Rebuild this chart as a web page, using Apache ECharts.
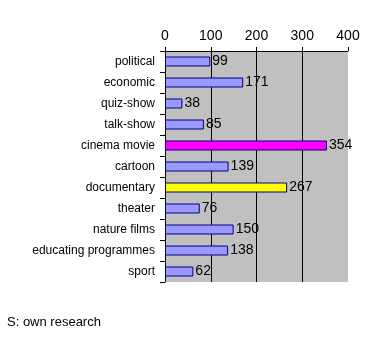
<!DOCTYPE html>
<html>
<head>
<meta charset="utf-8">
<script src="https://cdn.jsdelivr.net/npm/echarts@6/dist/echarts.min.js"></script>
<style>
  html, body { margin: 0; padding: 0; background: #fff; }
  #chart { width: 370px; height: 351px; }
</style>
</head>
<body>
<div id="chart"></div>
<script>
var categories = ['political', 'economic', 'quiz-show', 'talk-show', 'cinema movie', 'cartoon',
  'documentary', 'theater', 'nature films', 'educating programmes', 'sport'];
var values = [99, 171, 38, 85, 354, 139, 267, 76, 150, 138, 62];
var barColors = ['#9999ff', '#9999ff', '#9999ff', '#9999ff', '#ff00ff', '#9999ff',
  '#ffff00', '#9999ff', '#9999ff', '#9999ff', '#9999ff'];
var xTicks = [0, 100, 200, 300, 400];

var chart = echarts.init(document.getElementById('chart'));
var font = 'Liberation Sans, Arial, sans-serif';

chart.setOption({
  animation: false,
  textStyle: { fontFamily: font },
  grid: {
    left: 165, top: 51, width: 183, height: 231,
    show: true, backgroundColor: '#c0c0c0', borderWidth: 0
  },
  xAxis: {
    type: 'value', position: 'top',
    min: xTicks[0], max: xTicks[xTicks.length - 1], interval: 100,
    axisLine: { show: true, lineStyle: { color: '#000', width: 1 } },
    axisTick: { show: true, length: 4, lineStyle: { color: '#000' } },
    splitLine: { show: true, showMaxLine: false, showMinLine: false, lineStyle: { color: '#000', width: 1 } },
    axisLabel: { color: '#000', fontSize: 14, margin: 8, fontFamily: font }
  },
  yAxis: {
    type: 'category', data: categories, inverse: true,
    axisLine: { show: true, lineStyle: { color: '#000', width: 1 } },
    axisTick: { show: true, length: 5, lineStyle: { color: '#000' } },
    axisLabel: { color: '#000', fontSize: 12, margin: 10, fontFamily: font }
  },
  series: [{
    type: 'bar',
    barWidth: 10,
    data: values.map(function (v, i) {
      return { value: v, itemStyle: { color: barColors[i] } };
    }),
    itemStyle: { borderColor: '#000080', borderWidth: 1 },
    label: { show: true, position: 'right', distance: 2, color: '#000', fontSize: 14, fontFamily: font }
  }],
  graphic: [{
    type: 'text', left: 7, top: 316,
    style: { text: 'S: own research', fontSize: 13, fill: '#000', fontFamily: font }
  }]
});
</script>
</body>
</html>
